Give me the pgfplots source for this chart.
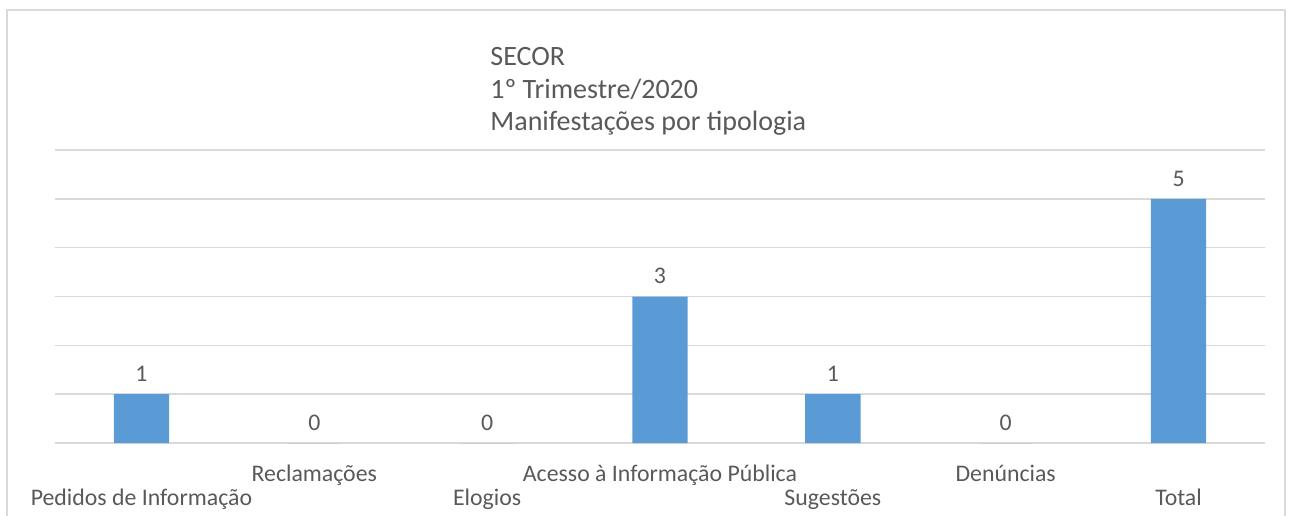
\documentclass[border=0pt]{standalone}
\usepackage{fontspec}
\setmainfont{Carlito}
\usepackage{pgfplots}
\pgfplotsset{compat=1.18}
\definecolor{barblue}{HTML}{5B9BD5}
\definecolor{gridgray}{HTML}{D9D9D9}
\definecolor{txtgray}{HTML}{595959}

\begin{document}
\begin{tikzpicture}
\begin{axis}[
  at={(0,0)}, anchor=south west,
  scale only axis, width=605pt, height=146.5pt,
  xmin=-0.5, xmax=6.5, ymin=0, ymax=6,
  ybar, bar width=0.32,
  axis line style={draw=none},
  ytick={0,1,2,3,4,5,6}, yticklabels={},
  ymajorgrids, grid style={gridgray, line width=0.8pt},
  major tick length=0pt,
  /pgf/number format/assume math mode=true,
  % upper row of category names
  xtick={1,3,5},
  xticklabels={Reclamações,Acesso à Informação Pública,Denúncias},
  xticklabel style={font=\fontsize{11.9}{13}\selectfont, text=txtgray,
    anchor=base, yshift=-19pt},
  % lower row of category names
  extra x ticks={0,2,4,6},
  extra x tick labels={Pedidos de Informação,Elogios,Sugestões,Total},
  extra x tick style={major tick length=0pt, xticklabel style={yshift=-12pt}},
  nodes near coords,
  every node near coord/.append style={font=\fontsize{11.9}{13}\selectfont,
    text=txtgray, anchor=base, yshift=6.3pt, inner sep=0pt},
  clip=false,
]
\addplot[fill=barblue, draw=none] coordinates {
  (0,1) (1,0) (2,0) (3,3) (4,1) (5,0) (6,5)};
\node[anchor=north west, align=left, inner sep=0pt, text=txtgray,
  font=\fontsize{14}{16.3}\selectfont]
  at (axis cs:-0.5,6) [xshift=217.5pt, yshift=51.5pt]
  {SECOR\\1º Trimestre/2020\\Manifestações por tipologia};
\end{axis}
\draw[gridgray, line width=1pt] (-24pt,-40pt) -- (-24pt,216.5pt) -- (615pt,216.5pt) -- (615pt,-40pt);
\pgfresetboundingbox
\useasboundingbox (-27.5pt,-36pt) rectangle (619pt,221.5pt);
\end{tikzpicture}
\end{document}
